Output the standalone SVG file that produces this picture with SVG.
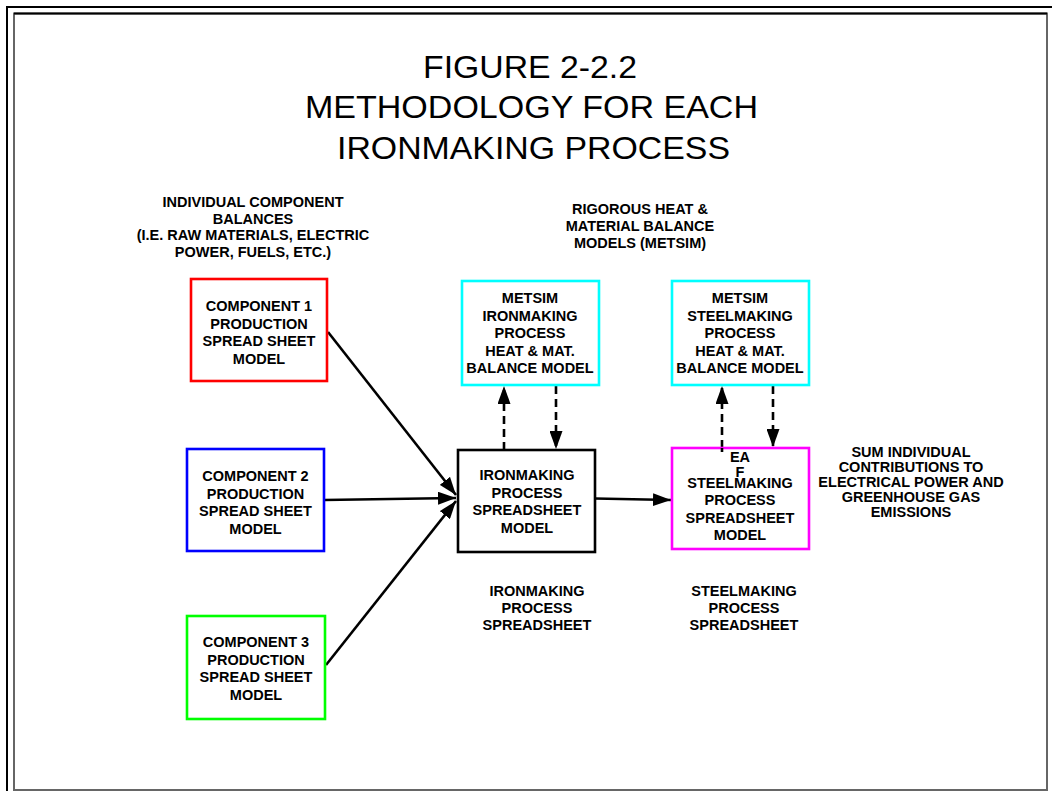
<svg xmlns="http://www.w3.org/2000/svg" width="1052" height="791" viewBox="0 0 1052 791">
<style>
.t{font-family:"Liberation Sans",Arial,sans-serif;font-weight:bold;font-size:14.5px;fill:#000;text-anchor:middle}
.title{font-family:"Liberation Sans",Arial,sans-serif;font-size:32px;fill:#000;text-anchor:middle}
.box{fill:#fff;stroke-width:2.6}
.c{stroke:#000;stroke-width:2.6;fill:none}
.d{stroke-dasharray:8 5}
</style>
<defs>
<marker id="ah" markerUnits="userSpaceOnUse" markerWidth="19" markerHeight="13" refX="18" refY="6.5" orient="auto">
<path d="M0,0 L18,6.5 L0,13 z" fill="#000"/>
</marker>
</defs>
<rect width="1052" height="791" fill="#fff"/>
<g id="frame">
<path d="M7,791 V7 H1052" fill="none" stroke="#000" stroke-width="2"/>
<rect x="14" y="13.5" width="1033" height="776.5" fill="none" stroke="#666" stroke-width="2"/>
<path d="M14,13.5 H1047" stroke="#000" stroke-width="2"/>
</g>
<g id="title">
<text class="title" x="530" y="77.5" textLength="214" lengthAdjust="spacingAndGlyphs">FIGURE 2-2.2</text>
<text class="title" x="531.5" y="117.5" textLength="453" lengthAdjust="spacingAndGlyphs">METHODOLOGY FOR EACH</text>
<text class="title" x="533.5" y="158.5" textLength="393" lengthAdjust="spacingAndGlyphs">IRONMAKING PROCESS</text>
</g>
<g id="label-components">
<text class="t" x="253" y="207">INDIVIDUAL COMPONENT</text>
<text class="t" x="253" y="223.5">BALANCES</text>
<text class="t" x="253" y="240">(I.E. RAW MATERIALS, ELECTRIC</text>
<text class="t" x="253" y="257">POWER, FUELS, ETC.)</text>
</g>
<g id="label-rigorous">
<text class="t" x="640" y="214">RIGOROUS HEAT &amp;</text>
<text class="t" x="640" y="231">MATERIAL BALANCE</text>
<text class="t" x="640" y="248">MODELS (METSIM)</text>
</g>
<g id="connectors">
<line class="c" x1="328" y1="332" x2="456" y2="495" marker-end="url(#ah)"/>
<line class="c" x1="324" y1="500" x2="456" y2="498" marker-end="url(#ah)"/>
<line class="c" x1="326" y1="665" x2="456" y2="501" marker-end="url(#ah)"/>
<line class="c d" x1="504" y1="450" x2="504" y2="386" marker-end="url(#ah)"/>
<line class="c d" x1="556" y1="386" x2="556" y2="449" marker-end="url(#ah)"/>
<line class="c d" x1="722" y1="448" x2="722" y2="386" marker-end="url(#ah)"/>
<line class="c d" x1="773" y1="386" x2="773" y2="447" marker-end="url(#ah)"/>
<line class="c" x1="595" y1="498.5" x2="671" y2="500" marker-end="url(#ah)"/>
</g>
<g id="component1">
<rect class="box" x="191" y="279" width="136" height="102" stroke="#ff0000"/>
<text class="t" x="259" y="311">COMPONENT 1</text>
<text class="t" x="259" y="328.5">PRODUCTION</text>
<text class="t" x="259" y="346">SPREAD SHEET</text>
<text class="t" x="259" y="363.5">MODEL</text>
</g>
<g id="component2">
<rect class="box" x="187" y="449" width="137" height="102" stroke="#0000ff"/>
<text class="t" x="255.5" y="481">COMPONENT 2</text>
<text class="t" x="255.5" y="498.5">PRODUCTION</text>
<text class="t" x="255.5" y="516">SPREAD SHEET</text>
<text class="t" x="255.5" y="533.5">MODEL</text>
</g>
<g id="component3">
<rect class="box" x="187" y="616" width="138" height="103" stroke="#00ff00"/>
<text class="t" x="256" y="647">COMPONENT 3</text>
<text class="t" x="256" y="664.5">PRODUCTION</text>
<text class="t" x="256" y="682">SPREAD SHEET</text>
<text class="t" x="256" y="699.5">MODEL</text>
</g>
<g id="metsim-iron">
<rect class="box" x="462" y="281" width="137" height="104" stroke="#00ffff"/>
<text class="t" x="530" y="303">METSIM</text>
<text class="t" x="530" y="321">IRONMAKING</text>
<text class="t" x="530" y="338">PROCESS</text>
<text class="t" x="530" y="355.5">HEAT &amp; MAT.</text>
<text class="t" x="530" y="373">BALANCE MODEL</text>
</g>
<g id="metsim-steel">
<rect class="box" x="672" y="281" width="137" height="104" stroke="#00ffff"/>
<text class="t" x="740" y="303">METSIM</text>
<text class="t" x="740" y="321">STEELMAKING</text>
<text class="t" x="740" y="338">PROCESS</text>
<text class="t" x="740" y="355.5">HEAT &amp; MAT.</text>
<text class="t" x="740" y="373">BALANCE MODEL</text>
</g>
<g id="iron-spreadsheet">
<rect class="box" x="458" y="450" width="137" height="102" stroke="#000"/>
<text class="t" x="527" y="480">IRONMAKING</text>
<text class="t" x="527" y="497.5">PROCESS</text>
<text class="t" x="527" y="515">SPREADSHEET</text>
<text class="t" x="527" y="532.5">MODEL</text>
</g>
<g id="steel-spreadsheet">
<rect class="box" x="672" y="448" width="137" height="101" stroke="#ff00ff"/>
<line class="c d" x1="722" y1="448" x2="722" y2="452"/>
<text class="t" x="740" y="462">EA</text>
<text class="t" x="740" y="476.5">F</text>
<text class="t" x="740" y="488">STEELMAKING</text>
<text class="t" x="740" y="505">PROCESS</text>
<text class="t" x="740" y="522.5">SPREADSHEET</text>
<text class="t" x="740" y="539.5">MODEL</text>
</g>
<g id="label-sum">
<text class="t" x="911" y="457">SUM INDIVIDUAL</text>
<text class="t" x="911" y="472">CONTRIBUTIONS TO</text>
<text class="t" x="911" y="487">ELECTRICAL POWER AND</text>
<text class="t" x="911" y="502">GREENHOUSE GAS</text>
<text class="t" x="911" y="516.5">EMISSIONS</text>
</g>
<g id="label-iron">
<text class="t" x="537" y="596">IRONMAKING</text>
<text class="t" x="537" y="612.5">PROCESS</text>
<text class="t" x="537" y="629.5">SPREADSHEET</text>
</g>
<g id="label-steel">
<text class="t" x="744" y="596">STEELMAKING</text>
<text class="t" x="744" y="612.5">PROCESS</text>
<text class="t" x="744" y="629.5">SPREADSHEET</text>
</g>
</svg>
